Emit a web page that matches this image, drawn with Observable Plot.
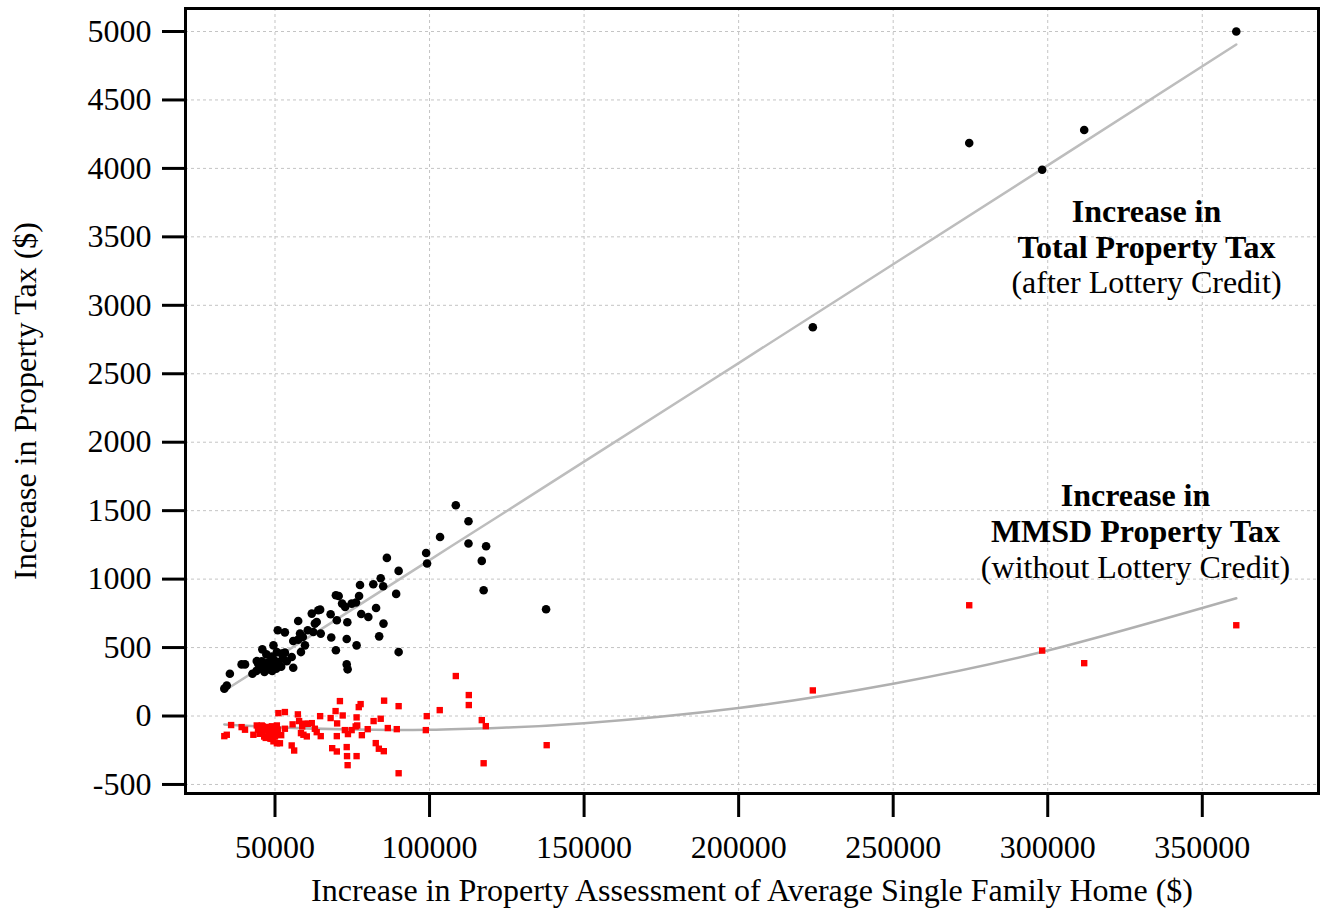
<!DOCTYPE html>
<html>
<head>
<meta charset="utf-8">
<script src="https://cdn.jsdelivr.net/npm/d3@7"></script>
<script src="https://cdn.jsdelivr.net/npm/@observablehq/plot@0.6"></script>
<style>
  html, body { margin: 0; padding: 0; background: #fff; }
  #chart { width: 1322px; height: 911px; }
</style>
</head>
<body>
<div id="chart"></div>
<script>
// Increase in assessment ($) and increase in total property tax after lottery credit ($)
const totalX = [108500,112600,103400,112600,118300,116900,98900,99200,86200,90000,117500,137700,84200,85000,81800,77500,89200,82700,85100,83700,90000,69700,70600,77200,71700,72700,74800,76200,77900,80200,68000,70000,73400,64600,64800,68200,73200,76400,69700,73200,73500,
  33600,34400,35400,39200,40300,42700,44100,45900,49500,50900,53200,50600,52200,53200,51400,55400,55900,57500,55900,57500,58100,59000,58400,59700,60600,61900,64000,62900,63500,62400,
  44000,44600,45200,45700,46200,46600,47100,47600,48100,48600,49100,49600,50000,50400,51000,52000,52600,47200,49000,53800,
  224000,274600,298200,311800,361000];
const totalY = [1540,1423,1308,1260,1240,1133,1191,1114,1155,1060,919,780,1006,948,962,957,892,789,675,582,467,882,877,877,821,797,821,829,745,723,743,699,685,777,602,573,562,516,480,377,341,
  200,222,309,377,377,309,401,487,516,626,611,467,456,463,370,431,353,694,548,558,602,577,467,516,626,748,772,675,687,614,
  330,380,345,400,360,322,385,340,395,365,330,410,375,345,395,360,420,450,435,400,
  2840,4185,3990,4280,5000];

// Increase in assessment ($) and increase in MMSD property tax without lottery credit ($)
const mmsdX = [108500,112700,112700,103300,99100,98800,116900,118200,117500,137900,90000,90000,85300,84200,81900,86500,89400,80000,82600,83600,85200,77700,77100,76400,76600,76100,78100,74800,73600,72600,71000,69600,71900,68000,70100,70000,68500,70000,73200,73300,76400,73500,64600,64800,
  33600,34400,35800,39200,40300,43000,44100,45700,51100,53200,50600,50900,53200,55400,56200,55700,57400,57800,58800,59700,61900,58400,59200,60300,62900,63500,60600,
  44500,45000,45500,46000,46500,47000,47500,48000,48500,49000,49500,50000,50600,51600,52000,46000,48000,49000,47000,50000,48900,
  224000,274600,298200,311800,361000];
const mmsdY = [292,153,80,43,-1,-103,-30,-74,-345,-213,72,-418,112,-20,-37,-88,-96,-96,-198,-239,-257,87,65,-10,-69,-76,-140,-103,-132,-103,109,36,4,-15,-54,-147,-235,-259,-227,-293,-293,-359,-1,-147,
  -147,-137,-66,-81,-100,-137,-69,-69,21,29,-69,-100,-93,-215,-252,-61,12,-37,-76,-56,-52,-125,-137,-149,-93,-118,-57,
  -100,-130,-90,-120,-150,-100,-80,-140,-165,-120,-185,-150,-199,-199,-140,-75,-110,-75,-160,-110,-167,
  187,809,478,386,663];

// Fitted trend curves (grey)
const fitX = [33600,50000,75000,100000,125000,150000,200000,250000,300000,361000];
const totalFitY = [185,420,779,1139,1498,1858,2578,3300,4022,4905];
const mmsdFitY = [-62,-82,-99,-100,-84,-53,59,236,478,860];

const xTicks = [50000,100000,150000,200000,250000,300000,350000];
const yTicks = [-500,0,500,1000,1500,2000,2500,3000,3500,4000,4500,5000];

const xLabel = "Increase in Property Assessment of Average Single Family Home ($)";
const yLabel = "Increase in Property Tax ($)";
const note1Bold = ["Increase in", "Total Property Tax"];
const note1Plain = "(after Lottery Credit)";
const note2Bold = ["Increase in", "MMSD Property Tax"];
const note2Plain = "(without Lottery Credit)";

const total = totalX.map((x, i) => ({x, y: totalY[i]}));
const mmsd = mmsdX.map((x, i) => ({x, y: mmsdY[i]}));
const totalFit = fitX.map((x, i) => ({x, y: totalFitY[i]}));
const mmsdFit = fitX.map((x, i) => ({x, y: mmsdFitY[i]}));

const font = "'Liberation Serif', 'Times New Roman', Times, serif";
const fs = 32;

const chart = Plot.plot({
  width: 1322,
  height: 911,
  marginLeft: 185,
  marginRight: 4,
  marginTop: 8,
  marginBottom: 118,
  style: {fontFamily: font, fontSize: fs + "px", background: "#fff", color: "#000"},
  x: {domain: [21045, 387600], label: null},
  y: {domain: [-566, 5168], label: null},
  marks: [
    Plot.gridX(xTicks, {stroke: "#c4c4c4", strokeOpacity: 1, strokeWidth: 1, strokeDasharray: "3,3"}),
    Plot.gridY(yTicks, {stroke: "#c4c4c4", strokeOpacity: 1, strokeWidth: 1, strokeDasharray: "3,3"}),
    Plot.axisX(xTicks, {tickSize: 24, tickPadding: 18, strokeWidth: 3, fontSize: fs, tickFormat: d => String(d), label: null}),
    Plot.axisY(yTicks, {tickSize: 23, tickPadding: 11, strokeWidth: 3, fontSize: fs, tickFormat: d => String(d), label: null}),
    Plot.line(totalFit, {x: "x", y: "y", stroke: "#bdbdbd", strokeWidth: 2.5, curve: "natural"}),
    Plot.line(mmsdFit, {x: "x", y: "y", stroke: "#b0b0b0", strokeWidth: 2.5, curve: "natural"}),
    Plot.dot(total, {x: "x", y: "y", r: 4.3, fill: "#000", stroke: "none"}),
    Plot.dot(mmsd, {x: "x", y: "y", r: 3.6, symbol: "square", fill: "#ff0000", stroke: "none"}),
    Plot.text(note1Bold, {x: 331950, y: (d, i) => [3685, 3422][i], text: d => d, fontSize: fs, fontWeight: "bold", textAnchor: "middle"}),
    Plot.text([note1Plain], {x: 331950, y: 3167, text: d => d, fontSize: fs, textAnchor: "middle"}),
    Plot.text(note2Bold, {x: 328390, y: (d, i) => [1611, 1348][i], text: d => d, fontSize: fs, fontWeight: "bold", textAnchor: "middle"}),
    Plot.text([note2Plain], {x: 328390, y: 1085, text: d => d, fontSize: fs, textAnchor: "middle"}),
    Plot.text([xLabel], {frameAnchor: "bottom", dy: 97, lineAnchor: "middle", text: d => d, fontSize: fs}),
    Plot.text([yLabel], {frameAnchor: "left", dx: -160, rotate: -90, textAnchor: "middle", lineAnchor: "middle", text: d => d, fontSize: fs}),
    Plot.frame({stroke: "#000", strokeWidth: 3})
  ]
});
document.getElementById("chart").appendChild(chart);
</script>
</body>
</html>
